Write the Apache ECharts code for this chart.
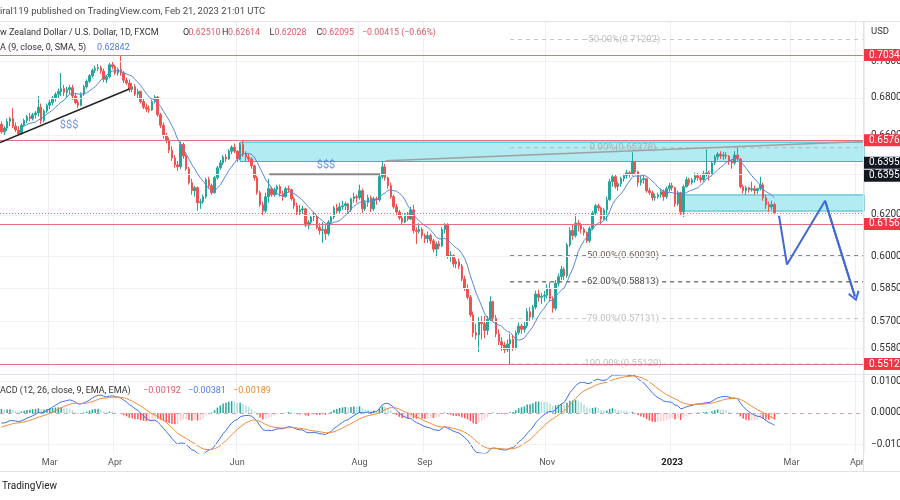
<!DOCTYPE html>
<html>
<head>
<meta charset="utf-8">
<title>NZDUSD 1D</title>
<script src="https://cdn.jsdelivr.net/npm/echarts@6/dist/echarts.min.js"></script>
<style>
html,body{margin:0;padding:0;background:#ffffff;}
#chart{width:900px;height:500px;}
</style>
</head>
<body>
<div id="chart"></div>
<script>
// ---------------- data ----------------
const startDate = '2022-02-04';   // first daily bar on screen
const futureBars = 31;            // empty weekday slots to the right of the last bar
// rows: [open, high, low, close]
const candles = [
[.6660,.6675,.6610,.6620],[.6620,.6650,.6600,.6640],[.6640,.6690,.6625,.6675],[.6675,.6700,.6650,.6690],[.6690,.6745,.6640,.6650],
[.6650,.6670,.6620,.6630],[.6630,.6650,.6600,.6610],[.6610,.6665,.6605,.6655],[.6655,.6690,.6645,.6680],[.6680,.6710,.6665,.6700],
[.6700,.6720,.6675,.6690],[.6690,.6720,.6680,.6710],[.6710,.6730,.6690,.6720],[.6720,.6810,.6700,.6750],[.6750,.6770,.6660,.6680],
[.6680,.6740,.6670,.6730],[.6730,.6770,.6720,.6760],[.6760,.6790,.6740,.6775],[.6775,.6810,.6760,.6800],[.6800,.6830,.6780,.6820],
[.6820,.6850,.6800,.6835],[.6835,.6935,.6810,.6850],[.6850,.6870,.6810,.6830],[.6830,.6860,.6800,.6845],[.6845,.6870,.6820,.6855],
[.6855,.6870,.6790,.6810],[.6810,.6825,.6765,.6775],[.6775,.6790,.6745,.6760],[.6760,.6830,.6755,.6820],[.6820,.6870,.6810,.6860],
[.6860,.6900,.6850,.6890],[.6890,.6930,.6880,.6920],[.6920,.6960,.6910,.6950],[.6950,.6975,.6935,.6960],[.6960,.6985,.6945,.6965],
[.6965,.6975,.6930,.6945],[.6945,.6960,.6885,.6900],[.6900,.6925,.6880,.6915],[.6915,.6990,.6905,.6980],[.6980,.7000,.6955,.6970],
[.6970,.6980,.6925,.6935],[.6935,.6965,.6920,.6955],[.6955,.7034,.6920,.6935],[.6935,.6945,.6880,.6895],[.6895,.6910,.6870,.6880],
[.6880,.6900,.6830,.6845],[.6845,.6880,.6830,.6860],[.6860,.6875,.6810,.6820],[.6820,.6850,.6800,.6835],[.6835,.6840,.6770,.6780],
[.6780,.6800,.6740,.6750],[.6750,.6770,.6725,.6740],[.6740,.6760,.6720,.6735],[.6735,.6790,.6730,.6780],[.6780,.6815,.6770,.6805],
[.6805,.6810,.6700,.6710],[.6710,.6720,.6640,.6655],[.6655,.6670,.6585,.6600],[.6600,.6615,.6560,.6575],[.6575,.6590,.6510,.6525],
[.6525,.6545,.6470,.6485],[.6485,.6500,.6435,.6450],[.6450,.6470,.6420,.6440],[.6440,.6570,.6430,.6555],[.6555,.6565,.6480,.6495],
[.6495,.6505,.6420,.6430],[.6430,.6440,.6350,.6360],[.6360,.6380,.6300,.6320],[.6320,.6345,.6290,.6335],[.6335,.6340,.6220,.6260],
[.6260,.6280,.6230,.6265],[.6265,.6300,.6255,.6290],[.6290,.6385,.6280,.6375],[.6375,.6390,.6330,.6345],[.6345,.6355,.6300,.6310],
[.6310,.6395,.6305,.6385],[.6385,.6445,.6375,.6435],[.6435,.6475,.6425,.6460],[.6460,.6500,.6450,.6490],[.6490,.6505,.6465,.6480],
[.6480,.6530,.6475,.6520],[.6520,.6550,.6505,.6540],[.6540,.6560,.6510,.6520],[.6520,.6525,.6465,.6480],[.6480,.6565,.6475,.6555],
[.6555,.6576,.6490,.6505],[.6505,.6520,.6470,.6490],[.6490,.6505,.6465,.6480],[.6480,.6490,.6430,.6445],[.6445,.6450,.6370,.6385],
[.6385,.6395,.6300,.6310],[.6310,.6320,.6240,.6250],[.6250,.6265,.6197,.6220],[.6220,.6310,.6210,.6290],[.6290,.6380,.6260,.6330],
[.6330,.6340,.6290,.6300],[.6300,.6335,.6290,.6325],[.6325,.6350,.6300,.6340],[.6340,.6350,.6290,.6305],[.6305,.6320,.6270,.6290],
[.6290,.6340,.6285,.6330],[.6330,.6345,.6310,.6325],[.6325,.6330,.6270,.6280],[.6280,.6290,.6230,.6245],[.6245,.6260,.6200,.6215],
[.6215,.6250,.6195,.6225],[.6225,.6245,.6205,.6230],[.6230,.6235,.6140,.6150],[.6150,.6175,.6130,.6165],[.6165,.6200,.6150,.6190],
[.6190,.6215,.6170,.6195],[.6195,.6200,.6130,.6140],[.6140,.6160,.6105,.6125],[.6125,.6165,.6065,.6130],[.6130,.6150,.6080,.6110],
[.6110,.6175,.6100,.6165],[.6165,.6200,.6150,.6190],[.6190,.6245,.6180,.6235],[.6235,.6255,.6205,.6220],[.6220,.6260,.6210,.6240],
[.6240,.6270,.6225,.6245],[.6245,.6265,.6225,.6255],[.6255,.6260,.6210,.6225],[.6225,.6285,.6215,.6280],[.6280,.6310,.6260,.6290],
[.6290,.6300,.6260,.6285],[.6285,.6350,.6275,.6320],[.6320,.6330,.6210,.6230],[.6230,.6275,.6220,.6260],[.6260,.6300,.6240,.6285],
[.6285,.6295,.6215,.6230],[.6230,.6290,.6220,.6280],[.6280,.6290,.6250,.6275],[.6275,.6400,.6265,.6390],[.6390,.6470,.6380,.6440],
[.6440,.6455,.6370,.6385],[.6385,.6390,.6330,.6345],[.6345,.6360,.6280,.6290],[.6290,.6300,.6230,.6240],[.6240,.6255,.6200,.6215],
[.6215,.6225,.6175,.6185],[.6185,.6200,.6150,.6165],[.6165,.6210,.6160,.6200],[.6200,.6215,.6170,.6180],[.6180,.6240,.6175,.6225],
[.6225,.6250,.6110,.6125],[.6125,.6140,.6060,.6120],[.6120,.6160,.6110,.6130],[.6130,.6140,.6085,.6100],[.6100,.6110,.6065,.6085],
[.6085,.6120,.6065,.6100],[.6100,.6110,.6060,.6075],[.6075,.6085,.6020,.6035],[.6035,.6070,.5995,.6060],[.6060,.6075,.6035,.6050],
[.6050,.6140,.6045,.6130],[.6130,.6160,.6110,.6150],[.6150,.6160,.5990,.6000],[.6000,.6025,.5975,.6005],[.6005,.6010,.5950,.5965],
[.5965,.5990,.5945,.5975],[.5975,.5990,.5940,.5955],[.5955,.5965,.5885,.5895],[.5895,.5910,.5840,.5850],[.5850,.5870,.5800,.5810],
[.5810,.5820,.5720,.5730],[.5730,.5745,.5630,.5650],[.5650,.5690,.5620,.5640],[.5640,.5720,.5565,.5700],[.5700,.5725,.5620,.5690],
[.5690,.5725,.5625,.5660],[.5660,.5725,.5640,.5710],[.5710,.5815,.5700,.5790],[.5790,.5795,.5700,.5715],[.5715,.5730,.5630,.5645],
[.5645,.5665,.5595,.5610],[.5610,.5630,.5570,.5595],[.5595,.5610,.5560,.5575],[.5575,.5620,.5565,.5600],[.5600,.5645,.5512,.5620],
[.5620,.5640,.5570,.5580],[.5580,.5660,.5575,.5650],[.5650,.5695,.5640,.5680],[.5680,.5690,.5645,.5665],[.5665,.5700,.5650,.5680],
[.5680,.5760,.5670,.5745],[.5745,.5765,.5700,.5720],[.5720,.5775,.5710,.5765],[.5765,.5840,.5755,.5825],[.5825,.5845,.5790,.5810],
[.5810,.5830,.5780,.5815],[.5815,.5840,.5790,.5820],[.5820,.5870,.5805,.5850],[.5850,.5880,.5790,.5805],[.5805,.5815,.5740,.5760],
[.5760,.5890,.5750,.5875],[.5875,.5920,.5860,.5905],[.5905,.5955,.5890,.5940],[.5940,.5950,.5890,.5910],[.5910,.6065,.5900,.6055],
[.6055,.6140,.6045,.6125],[.6125,.6155,.6080,.6100],[.6100,.6205,.6090,.6160],[.6160,.6175,.6120,.6150],[.6150,.6160,.6110,.6130],
[.6130,.6140,.6100,.6115],[.6115,.6120,.6065,.6075],[.6075,.6145,.6065,.6135],[.6135,.6220,.6125,.6210],[.6210,.6255,.6195,.6245],
[.6245,.6255,.6220,.6235],[.6235,.6240,.6155,.6180],[.6180,.6235,.6175,.6225],[.6225,.6290,.6170,.6275],[.6275,.6380,.6270,.6365],
[.6365,.6405,.6340,.6390],[.6390,.6400,.6330,.6340],[.6340,.6365,.6320,.6355],[.6355,.6390,.6340,.6380],[.6380,.6405,.6365,.6395],
[.6395,.6425,.6380,.6410],[.6410,.6420,.6385,.6400],[.6400,.6514,.6395,.6465],[.6465,.6470,.6400,.6415],[.6415,.6420,.6340,.6360],
[.6360,.6395,.6345,.6375],[.6375,.6395,.6355,.6380],[.6380,.6385,.6310,.6320],[.6320,.6335,.6300,.6310],[.6310,.6320,.6270,.6285],
[.6285,.6305,.6270,.6290],[.6290,.6310,.6280,.6300],[.6300,.6330,.6285,.6315],[.6315,.6325,.6270,.6290],[.6290,.6340,.6280,.6330],
[.6330,.6360,.6315,.6345],[.6345,.6360,.6320,.6335],[.6335,.6340,.6240,.6255],[.6255,.6320,.6245,.6310],[.6310,.6315,.6195,.6215],
[.6215,.6350,.6190,.6340],[.6340,.6390,.6335,.6375],[.6375,.6385,.6345,.6360],[.6360,.6385,.6350,.6375],[.6375,.6410,.6360,.6395],
[.6395,.6410,.6370,.6385],[.6385,.6400,.6360,.6375],[.6375,.6420,.6365,.6405],[.6405,.6530,.6390,.6410],[.6410,.6420,.6370,.6400],
[.6400,.6470,.6395,.6460],[.6460,.6500,.6450,.6490],[.6490,.6515,.6475,.6505],[.6505,.6520,.6480,.6495],[.6495,.6515,.6475,.6500],
[.6500,.6515,.6480,.6495],[.6495,.6500,.6450,.6470],[.6470,.6480,.6430,.6460],[.6460,.6520,.6450,.6500],[.6500,.6538,.6470,.6480],
[.6480,.6485,.6330,.6340],[.6340,.6350,.6305,.6320],[.6320,.6345,.6300,.6335],[.6335,.6340,.6310,.6325],[.6325,.6365,.6315,.6330],
[.6330,.6345,.6300,.6320],[.6320,.6335,.6305,.6330],[.6330,.6390,.6320,.6350],[.6350,.6360,.6270,.6285],[.6285,.6300,.6230,.6250],
[.6250,.6265,.6215,.6240],[.6240,.6270,.6225,.6251],[.62510,.62614,.62028,.62095]
];
const smaPeriod = 9;
// indicator state at the first bar on screen
const macdStart = { ema12: 0.6668, ema26: 0.6700, signal: -0.0045 };

const priceTicks = [0.7000, 0.6800, 0.6600, 0.6400, 0.6200, 0.6000, 0.5850, 0.5700, 0.5580];
const redLevels = [0.7034, 0.6576, 0.6156, 0.5512];
const markerLevels = [0.6395, 0.6395];
const lastPrice = 0.62095;
const macdTicks = [0.01, -0.01];
const timeTicks = [['2022-03-01','Mar'],['2022-04-01','Apr'],['2022-06-01','Jun'],['2022-08-01','Aug'],
  ['2022-09-01','Sep'],['2022-11-01','Nov'],['2023-01-02','2023'],['2023-03-01','Mar'],['2023-04-03','Apr']];

const fibNames = ['-50.00%','0.00%','50.00%','62.00%','79.00%','100.00%'];
const fibPrices = [0.71202, 0.65378, 0.60030, 0.58813, 0.57131, 0.55120];
const fibStartBar = 179;
const fibLabelBar = 218.7;

// drawings, in [bar index, price]
const trendBlack = [[-0.5, 0.6565], [45.0, 0.6848]];
const liquidityLine = [[94.2, 0.6402], [133.2, 0.6402]];
const greyTrend = [[135.2, 0.6471], [303.5, 0.6570]];
const projection = [[273.6, 0.6196], [276.4, 0.5962], [289.8, 0.6270], [300.3, 0.5814]];
const zones = [[[84.0, 0.6567], [303.5, 0.6467]], [[239.8, 0.6299], [303.5, 0.6219]]];
const dollarMarks = [[23.8, 0.6657], [114.2, 0.6450]];

// ---------------- derived ----------------
const dates = [];
{
  const d = new Date(startDate + 'T00:00:00Z');
  while (dates.length < candles.length + futureBars) {
    const wd = d.getUTCDay();
    if (wd !== 0 && wd !== 6) dates.push(d.toISOString().slice(0, 10));
    d.setUTCDate(d.getUTCDate() + 1);
  }
}
const N = dates.length;
const closes = candles.map(r => r[3]);
const kData = candles.map(r => [r[0], r[3], r[2], r[1]]);

const sma = closes.map((c, i) => {
  if (i < smaPeriod - 1) return null;
  let s = 0; for (let j = i - smaPeriod + 1; j <= i; j++) s += closes[j];
  return s / smaPeriod;
});

const macdLine = [], signalLine = [], histData = [];
{
  const k12 = 2 / 13, k26 = 2 / 27, k9 = 2 / 10;
  let e12 = macdStart.ema12, e26 = macdStart.ema26, sg = macdStart.signal, prev = null;
  closes.forEach((c, i) => {
    if (i > 0) { e12 += k12 * (c - e12); e26 += k26 * (c - e26); }
    const m = e12 - e26;
    if (i > 0) sg += k9 * (m - sg);
    macdLine.push(m); signalLine.push(sg);
    const h = m - sg;
    let col;
    if (h >= 0) col = (prev === null || h > prev) ? '#26a69a' : '#b2dfdb';
    else col = (prev === null || h < prev) ? '#ff5252' : '#ffcdd2';
    histData.push({ value: h, itemStyle: { color: col } });
    prev = h;
  });
}

// ---------------- styling ----------------
const FONT = 'Roboto, sans-serif';
const UP = '#26a69a', DOWN = '#ef5350';
const CLEAR = 'rgba(0,0,0,0)';
const priceView = [0.54689, 0.72253];
const macdView = [-0.01278, 0.01214];
const tickMap = new Map(timeTicks);
const showTick = (i, v) => tickMap.has(v);
const fibStyle = [
  { line: '#c4c4c4', text: '#b0b0b0', bg: CLEAR },
  { line: '#b8b8b8', text: '#a4a4a4', bg: CLEAR },
  { line: '#333333', text: '#4e342e', bg: '#ffffff' },
  { line: '#333333', text: '#222222', bg: '#ffffff' },
  { line: '#c4c4c4', text: '#b0b0b0', bg: '#ffffff' },
  { line: '#c4c4c4', text: '#b0b0b0', bg: CLEAR }
];
const fmtMinus = v => (v < 0 ? '\u2212' : '') + Math.abs(v).toFixed(4);

// horizontal level series helper (one style per series)
const levelSeries = (xi, yi, z, values, lineStyle, label) => ({
  type: 'line', xAxisIndex: xi, yAxisIndex: yi, data: [], z: z, silent: true,
  markLine: {
    silent: true, symbol: 'none', animation: false, precision: 6,
    lineStyle: lineStyle, label: label,
    data: values.map(v => ({ yAxis: v }))
  }
});
const scaleLabel = { show: true, position: 'end', distance: 7, color: '#333', fontSize: 10, fontFamily: FONT };
const tagLabel = (bg, off) => ({ show: true, position: 'end', distance: 0, color: '#fff', backgroundColor: bg,
  padding: [1, 6, 1, 5], fontSize: 10, fontFamily: FONT, offset: [0, off || 0],
  formatter: p => Number(p.value).toFixed(4) });

const series = [];

// price-scale grid lines + tick labels
series.push(levelSeries(2, 0, 0, priceTicks,
  { color: '#eff1f5', width: 1, type: 'solid' },
  Object.assign({ formatter: p => Number(p.value).toFixed(4) }, scaleLabel)));

// zones
series.push({
  type: 'line', xAxisIndex: 2, yAxisIndex: 0, data: [], z: 1, silent: true,
  markArea: {
    silent: true, animation: false,
    itemStyle: { color: '#b2ebf2', borderColor: '#3bb5c6', borderWidth: 1 },
    data: zones.map(z => [{ coord: z[0] }, { coord: z[1] }])
  }
});

// fib levels
fibPrices.forEach((p, i) => {
  series.push({
    type: 'line', xAxisIndex: 2, yAxisIndex: 0, z: 2, silent: true, symbol: 'none',
    data: [[fibStartBar, p], [N - 0.5, p]],
    lineStyle: { color: fibStyle[i].line, width: 1, type: [4, 4] }
  });
});
series.push({
  type: 'scatter', xAxisIndex: 2, yAxisIndex: 0, z: 3, silent: true, symbolSize: 1,
  itemStyle: { color: CLEAR },
  data: fibPrices.map((p, i) => ({
    value: [fibLabelBar, p],
    label: {
      show: true, position: 'inside', formatter: fibNames[i] + '(' + p.toFixed(5) + ')',
      color: fibStyle[i].text, backgroundColor: fibStyle[i].bg, padding: [0, 1],
      fontSize: 9.5, fontFamily: FONT
    }
  }))
});

// candles
series.push({
  type: 'candlestick', xAxisIndex: 0, yAxisIndex: 0, z: 4, data: kData, barWidth: 2,
  itemStyle: { color: UP, color0: DOWN, borderColor: UP, borderColor0: DOWN, borderWidth: 1 }
});

// SMA
series.push({
  type: 'line', xAxisIndex: 0, yAxisIndex: 0, z: 5, data: sma, symbol: 'none', silent: true,
  lineStyle: { color: '#5a86d8', width: 1 }
});

// red horizontal levels with price tags
series.push(levelSeries(2, 0, 6, redLevels, { color: '#e8707c', width: 1, type: 'solid' }, tagLabel('#f23645')));
// last price line
series.push(levelSeries(2, 0, 6, [lastPrice], { color: '#ef6f7b', width: 1, type: [1, 2] }, { show: false }));

// trend lines
[[trendBlack, '#222222', 1.5], [liquidityLine, '#8a8a8a', 2], [greyTrend, '#a0a0a0', 1.5]].forEach(d => {
  series.push({
    type: 'line', xAxisIndex: 2, yAxisIndex: 0, z: 7, data: d[0], symbol: 'none', silent: true,
    lineStyle: { color: d[1], width: d[2] }
  });
});

// projection path with arrow
series.push({
  type: 'line', xAxisIndex: 2, yAxisIndex: 0, z: 8, data: projection, symbol: 'none', silent: true,
  lineStyle: { color: '#4169d6', width: 2 },
  markLine: {
    silent: true, animation: false, precision: 6,
    symbol: ['none', 'path://M5,0 L10,8.6 L8.6,10 L5,3.2 L1.4,10 L0,8.6 Z'], symbolSize: [12, 10],
    lineStyle: { color: '#4169d6', width: 2, type: 'solid' }, label: { show: false },
    data: [[{ coord: projection[2] }, { coord: projection[3] }]]
  }
});

// $$$ marks
series.push({
  type: 'scatter', xAxisIndex: 2, yAxisIndex: 0, z: 9, silent: true, symbolSize: 1, itemStyle: { color: CLEAR },
  data: dollarMarks,
  label: { show: true, position: 'inside', formatter: '$$$', color: '#4a72d8', fontSize: 11, fontFamily: FONT }
});

// black price tags (second one pushed up, as on the price scale)
markerLevels.forEach((p, i) => {
  series.push(levelSeries(2, 0, 10, [p], { color: CLEAR, width: 0 }, tagLabel('#131722', i === 0 ? -13 : 0)));
});

// MACD pane
series.push(levelSeries(1, 1, 0, macdTicks, { color: '#eff1f5', width: 1, type: 'solid' },
  Object.assign({ formatter: p => fmtMinus(Number(p.value)) }, scaleLabel)));
series.push(levelSeries(1, 1, 1, [0], { color: '#c8a9b2', width: 1, type: [4, 4] },
  Object.assign({ formatter: '0.0000' }, scaleLabel)));
series.push({
  type: 'bar', xAxisIndex: 1, yAxisIndex: 1, z: 2, data: histData, barWidth: 1.5, silent: true
});
series.push({
  type: 'line', xAxisIndex: 1, yAxisIndex: 1, z: 3, data: macdLine, symbol: 'none', silent: true,
  lineStyle: { color: '#3f6fe6', width: 1 }
});
series.push({
  type: 'line', xAxisIndex: 1, yAxisIndex: 1, z: 3, data: signalLine, symbol: 'none', silent: true,
  lineStyle: { color: '#f08a3c', width: 1 }
});

// ---------------- overlay texts ----------------
const RED = '#e2596a', BLUE = '#4d7be0', ORANGE = '#ef8a32';
const txt = (x, y, text, fill, size, weight) => ({
  type: 'text', x: x, y: y, silent: true, z: 100,
  style: { text: text, fill: fill, font: (weight || 'normal') + ' ' + (size || 9) + 'px ' + FONT,
    textVerticalAlign: 'middle', verticalAlign: 'middle' }
});
const hline = (x1, y1, x2, y2) => ({
  type: 'line', silent: true, z: 99, shape: { x1: x1, y1: y1, x2: x2, y2: y2 },
  style: { stroke: '#e0e3eb', lineWidth: 1 }
});
const graphic = [
  hline(0, 21.5, 900, 21.5),
  hline(0, 374.5, 900, 374.5),
  hline(863.5, 21, 863.5, 471),
  hline(0, 471.5, 900, 471.5),
  txt(0, 12, 'iral119 published on TradingView.com, Feb 21, 2023 21:01 UTC', '#4a4a4a', 9.5),
  txt(0, 33, 'w Zealand Dollar / U.S. Dollar, 1D, FXCM', '#333'),
  txt(183, 33, 'O', '#333'), txt(188.5, 33, '0.62510', RED, 8.8),
  txt(222, 33, 'H', '#333'), txt(228, 33, '0.62614', RED, 8.8),
  txt(269.5, 33, 'L', '#333'), txt(274.5, 33, '0.62028', RED, 8.8),
  txt(316.5, 33, 'C', '#333'), txt(322, 33, '0.62095', RED, 8.8),
  txt(362, 33, '\u22120.00415 (\u22120.66%)', RED, 8.8),
  txt(0, 48, 'A (9, close, 0, SMA, 5)', '#333'), txt(97, 48, '0.62842', BLUE),
  txt(0, 391, 'ACD (12, 26, close, 9, EMA, EMA)', '#333'),
  txt(143, 391, '\u22120.00192', RED), txt(188, 391, '\u22120.00381', BLUE), txt(233, 391, '\u22120.00189', ORANGE),
  txt(871, 32, 'USD', '#333', 9.5),
  txt(2, 486, 'TradingView', '#222', 10)
];

const option = {
  animation: false,
  backgroundColor: '#ffffff',
  textStyle: { fontFamily: FONT },
  grid: [
    { left: 0, right: 36, top: 21, height: 353 },
    { left: 0, right: 36, top: 375, height: 78 }
  ],
  xAxis: [
    { type: 'category', gridIndex: 0, data: dates, boundaryGap: true,
      axisLine: { show: false }, axisTick: { show: false }, axisLabel: { show: false },
      splitLine: { show: true, interval: showTick, lineStyle: { color: '#eceff3' } } },
    { type: 'category', gridIndex: 1, data: dates, boundaryGap: true,
      axisLine: { show: false }, axisTick: { show: false },
      axisLabel: { interval: showTick, margin: 5, color: '#555', fontSize: 9, fontFamily: FONT,
        formatter: v => { const t = tickMap.get(v) || ''; return t === '2023' ? '{y|' + t + '}' : t; },
        rich: { y: { fontWeight: 'bold', fontSize: 9.5, color: '#222', fontFamily: FONT } } },
      splitLine: { show: true, interval: showTick, lineStyle: { color: '#eceff3' } } },
    { type: 'value', gridIndex: 0, min: -0.5, max: N - 0.5, show: false }
  ],
  yAxis: [
    { type: 'log', logBase: 10, gridIndex: 0, min: priceView[0], max: priceView[1], show: false, splitLine: { show: false } },
    { type: 'value', gridIndex: 1, min: macdView[0], max: macdView[1], show: false, splitLine: { show: false } }
  ],
  series: series,
  graphic: graphic
};

const chart = echarts.init(document.getElementById('chart'), null, { renderer: 'canvas' });
chart.setOption(option);
</script>
</body>
</html>
